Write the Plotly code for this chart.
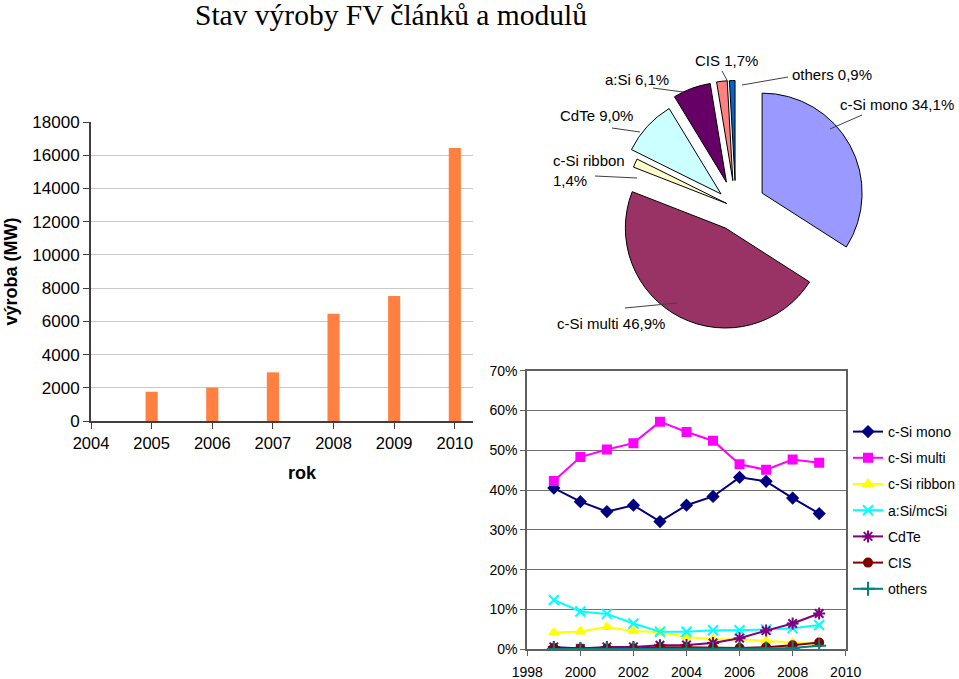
import plotly.graph_objects as go

# ---------------- data ----------------
bar_years = [2005, 2006, 2007, 2008, 2009, 2010]
bar_mw = [1760, 2010, 2930, 6450, 7530, 16430]

pie_labels = ["c-Si mono", "c-Si multi", "c-Si ribbon", "CdTe", "a:Si", "CIS", "others"]
pie_values = [34.1, 46.9, 1.4, 9.0, 6.1, 1.7, 0.9]

line_years = [1999, 2000, 2001, 2002, 2003, 2004, 2005, 2006, 2007, 2008, 2009]
si_mono = [40.5, 37.1, 34.6, 36.2, 32.1, 36.2, 38.4, 43.2, 42.2, 38.0, 34.1]
si_multi = [42.3, 48.3, 50.2, 51.8, 57.2, 54.6, 52.4, 46.5, 45.1, 47.7, 46.9]
si_ribbon = [4.2, 4.5, 5.6, 4.6, 4.3, 3.1, 2.5, 2.5, 2.1, 1.7, 1.4]
asi = [12.4, 9.5, 8.9, 6.5, 4.4, 4.4, 4.8, 4.8, 5.0, 5.3, 6.1]
cdte = [0.6, 0.2, 0.6, 0.6, 1.0, 1.1, 1.6, 2.8, 4.7, 6.5, 9.0]
cis = [0.3, 0.2, 0.2, 0.2, 0.5, 0.5, 0.4, 0.3, 0.5, 1.0, 1.7]
others = [0.1, 0.1, 0.1, 0.1, 0.1, 0.1, 0.1, 0.1, 0.2, 0.3, 0.9]
line_names = ["c-Si mono", "c-Si multi", "c-Si ribbon", "a:Si/mcSi", "CdTe", "CIS", "others"]

# ---------------- figure ----------------
W, H = 959, 679
ARIAL = "Arial, Liberation Sans, sans-serif"

def px_x(x):
    return x / W

def px_y(y):
    return 1 - y / H

fig = go.Figure()

# bar chart
fig.add_trace(go.Bar(
    x=bar_years, y=bar_mw, width=0.2,
    marker=dict(color="#FF8040", line=dict(width=0)),
    xaxis="x", yaxis="y", showlegend=False,
))

# pie chart
pie_colors = ["#9999FF", "#993366", "#FFFFCC", "#CCFFFF", "#660066", "#FF8080", "#0066CC"]
fig.add_trace(go.Pie(
    labels=pie_labels, values=pie_values, sort=False, direction="clockwise",
    rotation=0, textinfo="none", hoverinfo="label+percent",
    pull=[0.3, 0.23, 0.1, 0.2, 0.27, 0.27, 0.27],
    marker=dict(colors=pie_colors, line=dict(color="black", width=1)),
    domain=dict(x=[px_x(605.8), px_x(865.8)], y=[px_y(337.5), px_y(77.5)]),
    showlegend=False,
))

# line chart
series = [si_mono, si_multi, si_ribbon, asi, cdte, cis, others]
line_colors = ["#000080", "#FF00FF", "#FFFF00", "#00FFFF", "#800080", "#800000", "#008080"]
symbols = ["diamond", "square", "triangle-up", "x-thin-open", "asterisk-open", "circle", "cross-thin-open"]
sizes = [8, 8, 8, 10, 10, 8, 10]
for i, (name, vals) in enumerate(zip(line_names, series)):
    fig.add_trace(go.Scatter(
        x=line_years, y=[v / 100 for v in vals], name=name, mode="lines+markers",
        line=dict(color=line_colors[i], width=2),
        marker=dict(symbol=symbols[i], size=sizes[i], color=line_colors[i],
                    line=dict(color=line_colors[i], width=2)),
        xaxis="x2", yaxis="y2", legendgroup=name,
    ))

# pie labels with leader lines
label_pos = [(838, 104), (555, 323), (551, 170), (558, 115), (603, 79), (693, 60), (790, 74)]
leaders = [((862, 115), (830, 129)), ((625, 308), (677, 303)), ((595, 176), (637, 178)),
           ((612, 128), (640, 132)), ((653, 88), (683, 92)), ((722, 71), (728, 82)),
           ((788, 77), (742, 85))]
annotations = []
shapes = []
for lab, val, (tx, ty), (p0, p1) in zip(pie_labels, pie_values, label_pos, leaders):
    vtxt = f"{val:.1f}%".replace(".", ",")
    sep = "<br>" if lab == "c-Si ribbon" else " "
    annotations.append(dict(
        text=f"{lab}{sep}{vtxt}", x=px_x(tx), y=px_y(ty), xref="paper", yref="paper",
        xanchor="left", yanchor="middle", showarrow=False, align="left",
        font=dict(family=ARIAL, size=15, color="black"),
    ))
    shapes.append(dict(type="line", xref="paper", yref="paper",
                       x0=px_x(p0[0]), y0=px_y(p0[1]), x1=px_x(p1[0]), y1=px_y(p1[1]),
                       line=dict(color="#404040", width=1)))

annotations.append(dict(
    text="Stav výroby FV článků a modulů", x=px_x(391), y=px_y(15), xref="paper", yref="paper",
    xanchor="center", yanchor="middle", showarrow=False,
    font=dict(family="Times New Roman, Liberation Serif, serif", size=29.5, color="black"),
))
annotations.append(dict(
    text="<b>rok</b>", x=px_x(302), y=px_y(473), xref="paper", yref="paper",
    xanchor="center", yanchor="middle", showarrow=False,
    font=dict(family=ARIAL, size=18, color="black"),
))

fig.update_layout(
    width=W, height=H, autosize=False,
    margin=dict(l=0, r=0, t=0, b=0, autoexpand=False),
    paper_bgcolor="white", plot_bgcolor="white",
    font=dict(family=ARIAL, color="black"),
    annotations=annotations, shapes=shapes,
    xaxis=dict(domain=[px_x(91), px_x(473)], range=[2004, 2010.3], tickmode="array",
               tickvals=[2004, 2005, 2006, 2007, 2008, 2009, 2010],
               ticks="outside", ticklen=6, tickcolor="#404040",
               showline=True, linecolor="#404040", linewidth=2, showgrid=False, zeroline=False,
               tickfont=dict(size=16.5), automargin=False),
    yaxis=dict(domain=[px_y(421), px_y(122)], range=[0, 18000], dtick=2000, tickformat="d",
               ticks="outside", ticklen=6, tickcolor="#404040",
               showline=True, linecolor="#404040", linewidth=2,
               showgrid=True, gridcolor="#C8C8C8", gridwidth=1, zeroline=False,
               tickfont=dict(size=17), automargin=False,
               title=dict(text="<b>výroba (MW)</b>", font=dict(size=18), standoff=10)),
    xaxis2=dict(domain=[px_x(527.3), px_x(845.7)], range=[1998, 2010], dtick=2,
                anchor="y2", ticks="outside", ticklen=5, tickcolor="#606060",
                showline=True, linecolor="#606060", linewidth=2, mirror=True,
                showgrid=False, zeroline=False, tickfont=dict(size=14), automargin=False,
                ticklabelstandoff=4),
    yaxis2=dict(domain=[px_y(649.3), px_y(370.7)], range=[0, 0.7], dtick=0.1,
                tickformat=".0%", anchor="x2", ticks="outside", ticklen=5, tickcolor="#606060",
                showline=True, linecolor="#606060", linewidth=2, mirror=True,
                showgrid=True, gridcolor="#707070", gridwidth=1, zeroline=False,
                tickfont=dict(size=14), automargin=False),
    legend=dict(x=px_x(848), y=px_y(416), xanchor="left", yanchor="top",
                font=dict(size=14), bgcolor="rgba(0,0,0,0)",
                traceorder="grouped", tracegroupgap=5, itemwidth=30),
)

fig.write_html("out.html", post_script="document.body.style.margin='0';",
               config={"displayModeBar": False})
